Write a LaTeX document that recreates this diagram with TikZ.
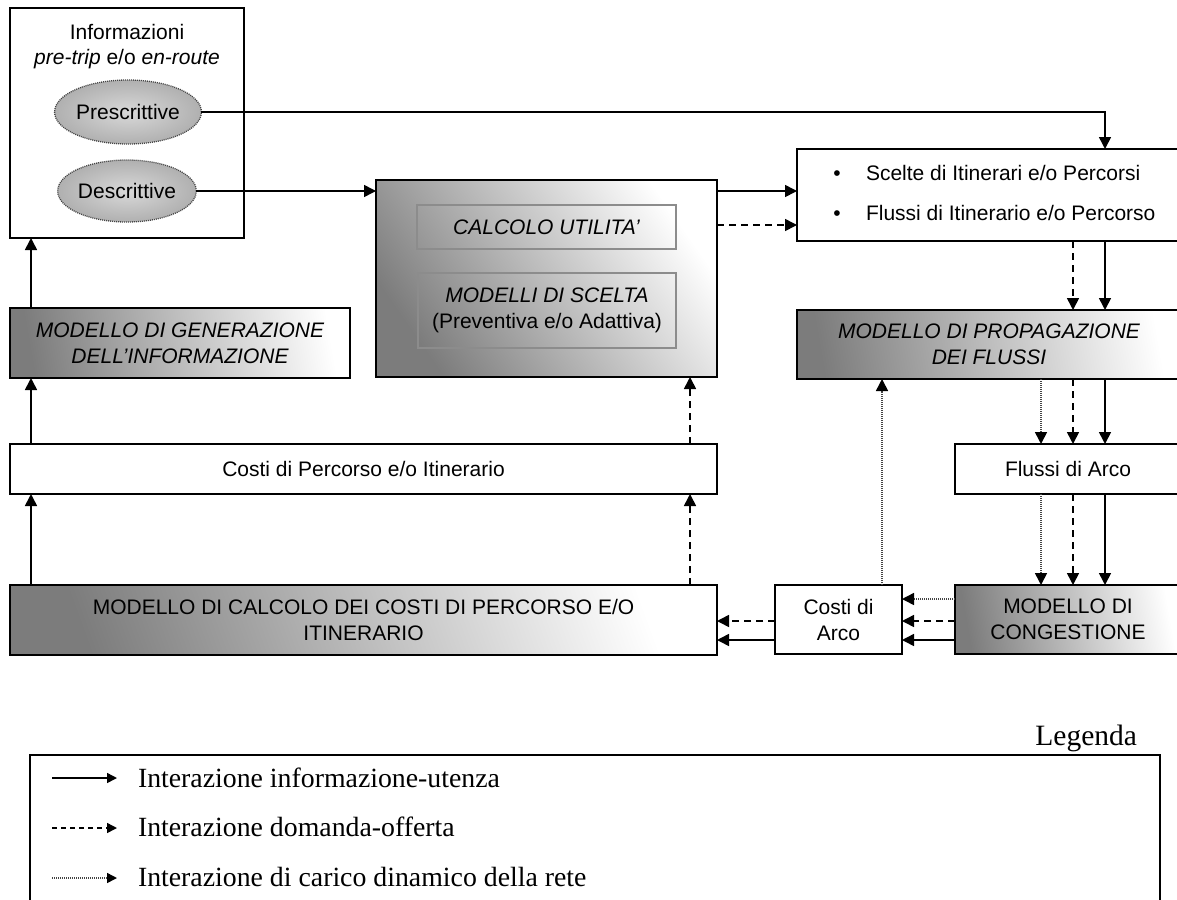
\documentclass[tikz,border=0pt]{standalone}
\usepackage{fontspec}
\setmainfont{Liberation Sans}
\newfontfamily\legfont{Liberation Serif}
\usetikzlibrary{arrows.meta,shapes.geometric}
\definecolor{gdark}{HTML}{7C7C7C}
\definecolor{innerline}{HTML}{8C8C8C}
\definecolor{dotline}{HTML}{444444}

\begin{document}
\begin{tikzpicture}[x=1pt,y=-1pt,
  every node/.style={inner sep=0pt, outer sep=0pt, font=\fontsize{21}{26}\selectfont},
  box/.style={draw, line width=2pt, fill=white, align=center},
  shadebox/.style={draw, line width=2pt, shading=axis, left color=gdark, right color=white, shading angle=#1, align=center},
  shadebox/.default=100,
  innerbox/.style={draw=innerline, line width=2pt, align=center},
  ellip/.style={ellipse, draw=dotline, line width=1.3pt, dash pattern=on 1pt off 1pt,
    inner color=gray!30, outer color=gray!62},
  tip/.style={-{Triangle[length=12pt,width=12pt,color=black]}},
  sol/.style={line width=1.6pt, tip},
  dsh/.style={sol, dash pattern=on 7pt off 5pt},
  dtt/.style={line width=1.6pt, tip, draw=dotline, dash pattern=on 1pt off 1pt},
  legtip/.style={-{Triangle[length=10pt,width=10pt,color=black]}},
  legtext/.style={anchor=base west, font=\legfont\fontsize{27.8}{30}\selectfont}
]
\useasboundingbox (0,0) rectangle (1177,899);
\clip (0,0) rectangle (1177,899);

% information block with the two kinds of information
\node[box, minimum width=234pt, minimum height=230pt] (info) at (127,123) {};
\node[anchor=base] (infot1) at (127,40) {Informazioni};
\node[anchor=base] (infot2) at (127,64) {\itshape pre-trip\/\upshape{} e/o \itshape en-route};
\node[ellip, minimum width=130pt, minimum height=64pt] (presc) at (128,112) {Prescrittive};
\node[ellip, minimum width=128pt, minimum height=62pt] (descr) at (127,191) {Descrittive};

% choice model block
\node[shadebox=125, minimum width=341pt, minimum height=197pt] (choice) at (546.5,278.5) {};
\node[innerbox, minimum width=259pt, minimum height=44pt] (utility) at (546.5,227) {\itshape CALCOLO UTILITA’};
\node[innerbox, minimum width=258pt, minimum height=75pt] (scelta) at (547,310.5)
  {\itshape MODELLI DI SCELTA\\(Preventiva e/o Adattiva)};

% path / itinerary choices and flows
\node[box, minimum width=384pt, minimum height=92pt] (scelte) at (989,195) {};
\node[anchor=base] (b1) at (837,180) {\textbullet};
\node[anchor=base west] (s1) at (866,180) {Scelte di Itinerari e/o Percorsi};
\node[anchor=base] (b2) at (837,220) {\textbullet};
\node[anchor=base west] (s2) at (866,220) {Flussi di Itinerario e/o Percorso};

% right column
\node[shadebox, minimum width=384pt, minimum height=69pt] (prop) at (989,344.5)
  {\itshape MODELLO DI PROPAGAZIONE\\\itshape DEI FLUSSI};
\node[box, minimum width=226pt, minimum height=50pt] (arco) at (1068,469) {Flussi di Arco};
\node[shadebox, minimum width=226pt, minimum height=69pt] (cong) at (1068,619.5)
  {MODELLO DI\\CONGESTIONE};
\node[box, minimum width=127pt, minimum height=69pt] (costiarco) at (838.5,619.5) {Costi di\\Arco};

% left column
\node[shadebox, minimum width=340pt, minimum height=70pt] (gen) at (180,343)
  {\itshape MODELLO DI GENERAZIONE\\\itshape DELL’INFORMAZIONE};
\node[box, minimum width=707pt, minimum height=50pt] (costperc) at (363.5,469)
  {Costi di Percorso e/o Itinerario};
\node[shadebox=110, minimum width=707pt, minimum height=70pt] (calcost) at (363.5,620)
  {MODELLO DI CALCOLO DEI COSTI DI PERCORSO E/O\\ITINERARIO};

% connector columns and rows
\coordinate (xA) at (1041,0);
\coordinate (xB) at (1073,0);
\coordinate (xC) at (1105,0);
\coordinate (xL) at (31,0);
\coordinate (xD) at (690,0);
\coordinate (xE) at (882,0);
\coordinate (r1) at (0,191);
\coordinate (r2) at (0,225);
\coordinate (r3) at (0,599);
\coordinate (r4) at (0,621);
\coordinate (r5) at (0,640);

\draw[sol] (presc.east) -| (scelte.north -| xC);
\draw[sol] (descr.east) -- (descr.east -| choice.west);
\draw[sol] (choice.east |- r1) -- (scelte.west |- r1);
\draw[dsh] (choice.east |- r2) -- (scelte.west |- r2);

\draw[dsh] (scelte.south -| xB) -- (prop.north -| xB);
\draw[sol] (scelte.south -| xC) -- (prop.north -| xC);

\draw[dtt] (prop.south -| xA) -- (arco.north -| xA);
\draw[dsh] (prop.south -| xB) -- (arco.north -| xB);
\draw[sol] (prop.south -| xC) -- (arco.north -| xC);

\draw[dtt] (arco.south -| xA) -- (cong.north -| xA);
\draw[dsh] (arco.south -| xB) -- (cong.north -| xB);
\draw[sol] (arco.south -| xC) -- (cong.north -| xC);

\draw[dtt] (costiarco.north -| xE) -- (prop.south -| xE);

\draw[dtt] (cong.west |- r3) -- (costiarco.east |- r3);
\draw[dsh] (cong.west |- r4) -- (costiarco.east |- r4);
\draw[sol] (cong.west |- r5) -- (costiarco.east |- r5);
\draw[dsh] (costiarco.west |- r4) -- (calcost.east |- r4);
\draw[sol] (costiarco.west |- r5) -- (calcost.east |- r5);

\draw[sol] (calcost.north -| xL) -- (costperc.south -| xL);
\draw[dsh] (calcost.north -| xD) -- (costperc.south -| xD);
\draw[sol] (costperc.north -| xL) -- (gen.south -| xL);
\draw[dsh] (costperc.north -| xD) -- (choice.south -| xD);
\draw[sol] (gen.north -| xL) -- (info.south -| xL);

% legend
\node[anchor=base east, font=\legfont\fontsize{29.5}{32}\selectfont] (legtitle) at (1137,745) {Legenda};
\draw[line width=2pt] (30,910) -- (30,755) -- (1160,755) -- (1160,910);
\coordinate (l1a) at (52,778);  \coordinate (l1b) at (117,778);
\coordinate (l2a) at (52,828);  \coordinate (l2b) at (117,828);
\coordinate (l3a) at (52,878);  \coordinate (l3b) at (117,878);
\draw[line width=1.5pt, legtip] (l1a) -- (l1b);
\draw[line width=1.5pt, legtip, dash pattern=on 5pt off 4pt] (l2a) -- (l2b);
\draw[line width=1.5pt, legtip, draw=dotline, dash pattern=on 1pt off 1pt] (l3a) -- (l3b);
\node[legtext] (lt1) at (138,787) {Interazione informazione-utenza};
\node[legtext] (lt2) at (138,836) {Interazione domanda-offerta};
\node[legtext] (lt3) at (138,886) {Interazione di carico dinamico della rete};
\end{tikzpicture}
\end{document}
